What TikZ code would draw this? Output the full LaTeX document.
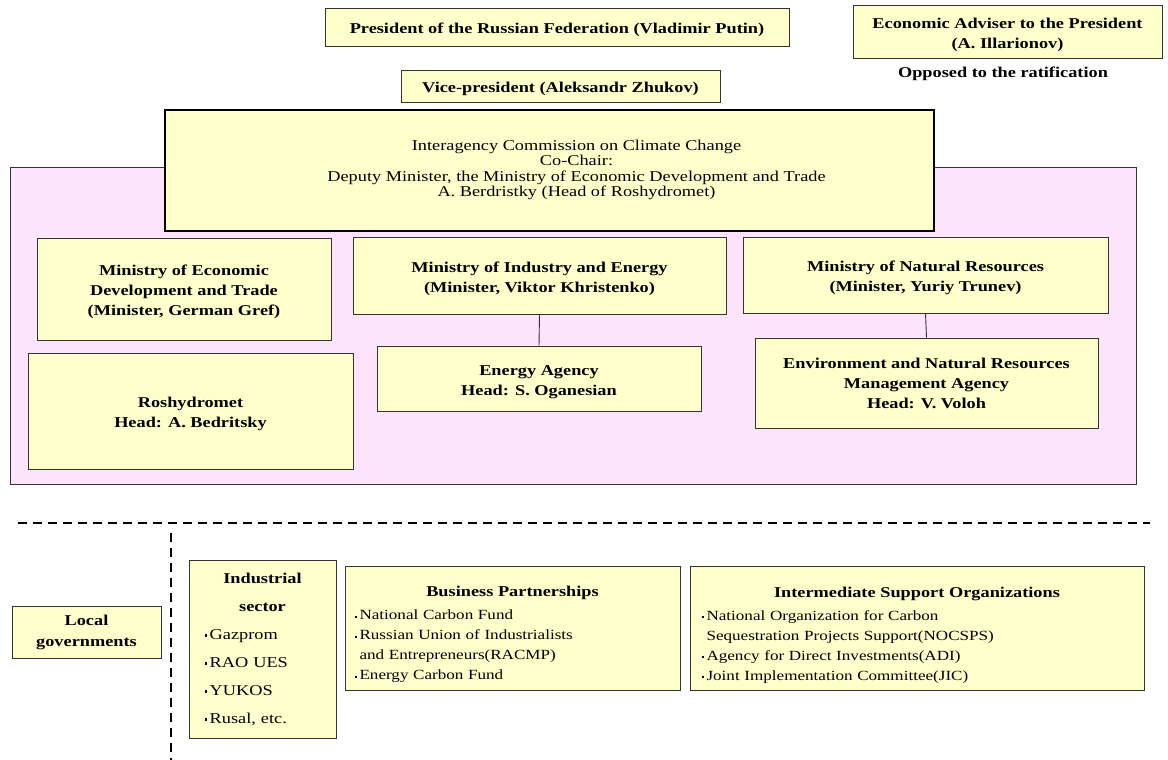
\documentclass[tikz,border=0pt]{standalone}
\usepackage{fontspec}
\setmainfont{Liberation Serif}[FakeStretch=1.22]
\definecolor{boxfill}{HTML}{FFFFCC}
\definecolor{pinkfill}{HTML}{FDE4FD}
\definecolor{edge}{HTML}{333333}
\newcommand{\bul}{\raisebox{0.35ex}{\rule{2.2pt}{2.2pt}}\,}
\newcommand{\tstrut}{\rule{0pt}{17pt}}
\newcommand{\listtitle}[1]{{\fontsize{15}{20}\selectfont\bfseries #1}}
\begin{document}
\begin{tikzpicture}[x=1pt,y=-1pt,
  box/.style={draw=edge,fill=boxfill,line width=0.9pt,inner sep=0pt,align=center,font=\bfseries\fontsize{15}{20}\selectfont},
  listbox/.style={box,align=left},
  link/.style={draw=edge,line width=0.9pt},
  divider/.style={line width=2.4pt,dash pattern=on 9pt off 6pt}]
\useasboundingbox (0,0) rectangle (1168,760);
\fill[white] (0,0) rectangle (1168,760);
% pink area
\node[draw=edge,fill=pinkfill,line width=0.9pt,minimum width=1126pt,minimum height=317pt,inner sep=0pt] (area) at (573,325.5) {};
\node[box,minimum width=464pt,minimum height=38pt] (pres) at (557,27) {\tstrut President of the Russian Federation (Vladimir Putin)};
\node[box,minimum width=309pt,minimum height=53pt] (adv) at (1007.5,31.5) {\tstrut Economic Adviser to the President\\(A. Illarionov)};
\node[font=\bfseries\fontsize{15}{18}\selectfont] (opp) at (1003,74) {Opposed to the ratification};
\node[box,minimum width=319pt,minimum height=32pt] (vice) at (560.5,86) {\tstrut Vice-president (Aleksandr Zhukov)};
\node[box,align=none,line width=2pt,draw=black,minimum width=769pt,minimum height=121pt,font=\fontsize{15}{15.5}\selectfont] (icc) at (549.5,170.5) {\hspace*{54pt}\begin{tabular}{@{}c@{}}Interagency Commission on Climate Change\\Co-Chair:\\Deputy Minister, the Ministry of Economic Development and Trade\\A. Berdristky (Head of Roshydromet)\end{tabular}};
\node[box,minimum width=294pt,minimum height=102pt] (mecon) at (184,289) {\tstrut Ministry of Economic\\Development and Trade\\(Minister, German Gref)};
\node[box,minimum width=325pt,minimum height=116pt] (rosh) at (190.5,411) {\tstrut Roshydromet\\Head: A. Bedritsky};
\node[box,minimum width=373pt,minimum height=77pt] (mind) at (539.5,275.5) {\tstrut Ministry of Industry and Energy\\(Minister, Viktor Khristenko)};
\node[box,minimum width=324pt,minimum height=65pt] (energy) at (539,378.5) {\tstrut Energy Agency\\Head: S. Oganesian};
\node[box,minimum width=365pt,minimum height=76pt] (mnat) at (925.5,275) {\tstrut Ministry of Natural Resources\\(Minister, Yuriy Trunev)};
\node[box,minimum width=343pt,minimum height=90pt] (env) at (926.5,383) {Environment and Natural Resources\\Management Agency\\Head: V. Voloh};
\draw[link] (mind.south) -- (energy.north);
\draw[link] (mnat.south) -- (env.north);
% dividers
\coordinate (dl) at (18,523);
\coordinate (dr) at (1150,523);
\coordinate (vt) at (171,533);
\coordinate (vb) at (171,760);
\draw[divider] (dl) -- (dr);
\draw[divider] (vt) -- (vb);
% lower boxes
\node[box,minimum width=149pt,minimum height=52pt,font=\bfseries\fontsize{15}{21}\selectfont] (local) at (86.5,632) {Local\\governments};
\node[listbox,minimum width=147pt,minimum height=178pt,text width=115pt,font=\fontsize{15}{28}\selectfont] (ind) at (262.5,649) {\centering\textbf{Industrial}\\\textbf{sector}\par\raggedright\bul Gazprom\\\bul RAO UES\\\bul YUKOS\\\bul Rusal, etc.};
\node[listbox,minimum width=335pt,minimum height=124pt,text width=315pt,font=\fontsize{14}{20}\selectfont] (bus) at (512.5,628) {\centering\rule{0pt}{24pt}\listtitle{Business Partnerships}\par\vspace{3pt}\raggedright\bul National Carbon Fund\\\bul Russian Union of Industrialists\\\phantom{\bul}and Entrepreneurs(RACMP)\\\bul Energy Carbon Fund};
\node[listbox,minimum width=454pt,minimum height=124pt,text width=430pt,font=\fontsize{14}{20}\selectfont] (iso) at (917,628) {\centering\rule{0pt}{24pt}\listtitle{Intermediate Support Organizations}\par\vspace{3pt}\raggedright\bul National Organization for Carbon\\\phantom{\bul}Sequestration Projects Support(NOCSPS)\\\bul Agency for Direct Investments(ADI)\\\bul Joint Implementation Committee(JIC)};
\end{tikzpicture}
\end{document}
